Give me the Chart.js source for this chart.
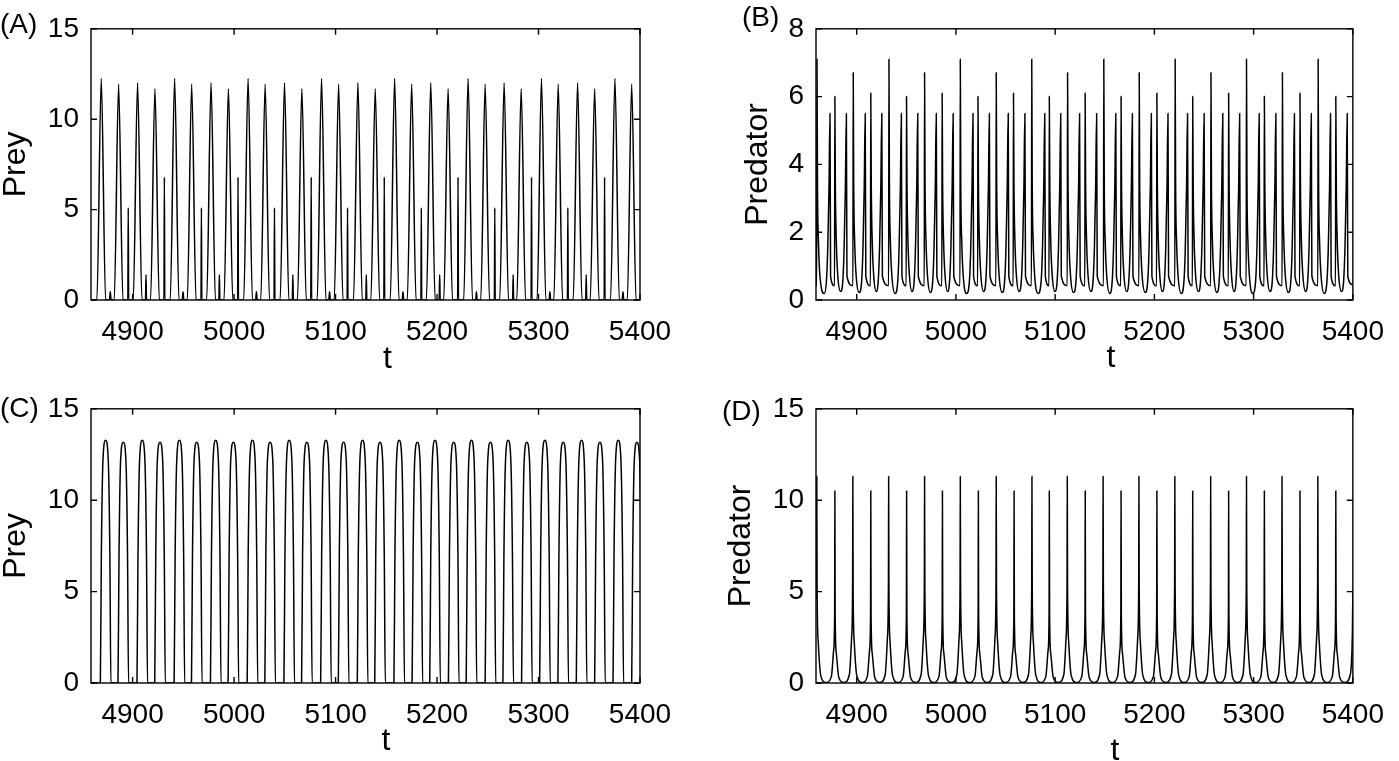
<!DOCTYPE html>
<html>
<head>
<meta charset="utf-8">
<script src="https://cdn.jsdelivr.net/npm/chart.js@4.4.1/dist/chart.umd.min.js"></script>
<style>
  body { margin: 0; background: #fff; width: 1399px; height: 761px; position: relative; overflow: hidden; }
  canvas { position: absolute; }
  #cA { left: 0; top: 0; }
  #cB { left: 700px; top: 0; }
  #cC { left: 0; top: 380px; }
  #cD { left: 700px; top: 380px; }
</style>
</head>
<body>
<canvas id="cA" width="700" height="380"></canvas>
<canvas id="cB" width="699" height="380"></canvas>
<canvas id="cC" width="700" height="381"></canvas>
<canvas id="cD" width="699" height="381"></canvas>
<script>
// tick labels
var tTicks = [4900, 5000, 5100, 5200, 5300, 5400];
var preyTicks = [0, 5, 10, 15];
var predTicksB = [0, 2, 4, 6, 8];
var predTicksD = [0, 5, 10, 15];

// (A) prey, [t, value]
var preyA = [
  [4859,0],
  [4864.8,0],[4869.1,12.25],[4873.4,0],[4877.2,0],[4878.0,0.45],[4878.8,0],
  [4881.9,0],[4886.2,11.93],[4890.5,0],[4895.3,0],[4895.7,5.1],[4896.1,0],
  [4900.6,0],[4904.9,12.02],[4909.2,0],[4912.7,0],[4913.2,1.4],[4913.7,0],
  [4917.7,0],[4922.0,11.69],[4926.3,0],[4930.9,0],[4931.3,6.8],[4931.7,0],
  [4937.1,0],[4941.4,12.25],[4945.7,0],[4948.9,0],[4949.7,0.45],[4950.5,0],
  [4953.9,0],[4958.2,11.93],[4962.5,0],[4967.4,0],[4967.8,5.1],[4968.2,0],
  [4973.0,0],[4977.3,12.02],[4981.6,0],[4985.0,0],[4985.5,1.4],[4986.0,0],
  [4990.1,0],[4994.4,11.69],[4998.7,0],[5003.5,0],[5003.9,6.8],[5004.3,0],
  [5009.5,0],[5013.8,12.25],[5018.1,0],[5021.2,0],[5022.0,0.45],[5022.8,0],
  [5026.3,0],[5030.6,11.93],[5034.9,0],[5039.4,0],[5039.8,5.1],[5040.2,0],
  [5045.4,0],[5049.7,12.02],[5054.0,0],[5057.4,0],[5057.9,1.4],[5058.4,0],
  [5062.5,0],[5066.8,11.69],[5071.1,0],[5075.6,0],[5076.0,6.8],[5076.4,0],
  [5081.9,0],[5086.2,12.25],[5090.5,0],[5093.3,0],[5094.1,0.45],[5094.9,0],
  [5098.7,0],[5103.0,11.93],[5107.3,0],[5111.4,0],[5111.8,5.1],[5112.2,0],
  [5117.7,0],[5122.0,12.02],[5126.3,0],[5129.8,0],[5130.3,1.4],[5130.8,0],
  [5134.8,0],[5139.1,11.69],[5143.4,0],[5147.6,0],[5148.0,6.8],[5148.4,0],
  [5153.9,0],[5158.2,12.25],[5162.5,0],[5165.6,0],[5166.4,0.45],[5167.2,0],
  [5170.7,0],[5175.0,11.93],[5179.3,0],[5184.1,0],[5184.5,5.1],[5184.9,0],
  [5189.5,0],[5193.8,12.02],[5198.1,0],[5202.1,0],[5202.6,1.4],[5203.1,0],
  [5206.6,0],[5210.9,11.69],[5215.2,0],[5220.3,0],[5220.7,6.8],[5221.1,0],
  [5226.3,0],[5230.6,12.25],[5234.9,0],[5238.0,0],[5238.8,0.45],[5239.6,0],
  [5243.1,0],[5247.4,11.93],[5251.7,0],[5256.5,0],[5256.9,5.1],[5257.3,0],
  [5261.8,0],[5266.1,12.02],[5270.4,0],[5274.5,0],[5275.0,1.4],[5275.5,0],
  [5278.6,0],[5282.9,11.69],[5287.2,0],[5292.7,0],[5293.1,6.8],[5293.5,0],
  [5298.6,0],[5302.9,12.25],[5307.2,0],[5310.4,0],[5311.2,0.45],[5312.0,0],
  [5315.1,0],[5319.4,11.93],[5323.7,0],[5328.5,0],[5328.9,5.1],[5329.3,0],
  [5334.2,0],[5338.5,12.02],[5342.8,0],[5346.5,0],[5347.0,1.4],[5347.5,0],
  [5351.0,0],[5355.3,11.69],[5359.6,0],[5364.7,0],[5365.1,6.8],[5365.5,0],
  [5371.0,0],[5375.3,12.25],[5379.6,0],[5382.4,0],[5383.2,0.45],[5384.0,0],
  [5387.5,0],[5391.8,11.93],[5396.1,0],
  [5400,0]
];

// (B) predator
var predB = [
  [4859.0,0.45],[4859.7,0.42],[4860.0,7.1],[4860.5,3.4],[4861.5,1.7],[4863.0,0.7],[4867.3,0.19],
  [4869.6,0.6],[4870.9,1.6],[4872.1,3.3],[4873.1,5.5],[4873.7,0.7],[4877.7,0.42],[4878.0,6.0],[4878.5,3.4],[4879.5,1.7],[4881.0,0.7],[4883.8,0.25],
  [4886.1,0.6],[4887.4,1.6],[4888.6,3.3],[4889.6,5.5],[4890.2,0.7],[4896.2,0.42],[4896.5,6.7],[4897.0,3.4],[4898.0,1.7],[4899.5,0.7],[4902.5,0.22],
  [4905.1,0.6],[4906.4,1.6],[4907.6,3.3],[4908.6,5.5],[4909.2,0.7],[4913.9,0.42],[4914.2,6.1],[4914.7,3.4],[4915.7,1.7],[4917.2,0.7],[4919.7,0.25],
  [4921.8,0.6],[4923.1,1.6],[4924.3,3.3],[4925.3,5.5],[4925.9,0.7],[4932.2,0.42],[4932.5,7.1],[4933.0,3.4],[4934.0,1.7],[4935.5,0.7],[4938.7,0.19],
  [4941.5,0.6],[4942.8,1.6],[4944.0,3.3],[4945.0,5.5],[4945.6,0.7],[4949.9,0.42],[4950.2,6.0],[4950.7,3.4],[4951.7,1.7],[4953.2,0.7],[4955.8,0.25],
  [4958.0,0.6],[4959.3,1.6],[4960.5,3.3],[4961.5,5.5],[4962.1,0.7],[4968.1,0.42],[4968.4,6.7],[4968.9,3.4],[4969.9,1.7],[4971.4,0.7],[4974.3,0.22],
  [4976.7,0.6],[4978.0,1.6],[4979.2,3.3],[4980.2,5.5],[4980.8,0.7],[4985.8,0.42],[4986.1,6.1],[4986.6,3.4],[4987.6,1.7],[4989.1,0.7],[4991.6,0.25],
  [4993.7,0.6],[4995.0,1.6],[4996.2,3.3],[4997.2,5.5],[4997.8,0.7],[5004.1,0.42],[5004.4,7.1],[5004.9,3.4],[5005.9,1.7],[5007.4,0.7],[5010.8,0.19],
  [5013.7,0.6],[5015.0,1.6],[5016.2,3.3],[5017.2,5.5],[5017.8,0.7],[5021.9,0.42],[5022.2,6.0],[5022.7,3.4],[5023.7,1.7],[5025.2,0.7],[5027.9,0.25],
  [5030.2,0.6],[5031.5,1.6],[5032.7,3.3],[5033.7,5.5],[5034.3,0.7],[5040.3,0.42],[5040.6,6.7],[5041.1,3.4],[5042.1,1.7],[5043.6,0.7],[5046.6,0.22],
  [5049.2,0.6],[5050.5,1.6],[5051.7,3.3],[5052.7,5.5],[5053.3,0.7],[5057.7,0.42],[5058.0,6.1],[5058.5,3.4],[5059.5,1.7],[5061.0,0.7],[5063.7,0.25],
  [5066.0,0.6],[5067.3,1.6],[5068.5,3.3],[5069.5,5.5],[5070.1,0.7],[5076.1,0.42],[5076.4,7.1],[5076.9,3.4],[5077.9,1.7],[5079.4,0.7],[5082.9,0.19],
  [5086.0,0.6],[5087.3,1.6],[5088.5,3.3],[5089.5,5.5],[5090.1,0.7],[5093.8,0.42],[5094.1,6.0],[5094.6,3.4],[5095.6,1.7],[5097.1,0.7],[5099.8,0.25],
  [5102.1,0.6],[5103.4,1.6],[5104.6,3.3],[5105.6,5.5],[5106.2,0.7],[5112.2,0.42],[5112.5,6.7],[5113.0,3.4],[5114.0,1.7],[5115.5,0.7],[5118.5,0.22],
  [5121.1,0.6],[5122.4,1.6],[5123.6,3.3],[5124.6,5.5],[5125.2,0.7],[5129.9,0.42],[5130.2,6.1],[5130.7,3.4],[5131.7,1.7],[5133.2,0.7],[5136.0,0.25],
  [5138.3,0.6],[5139.6,1.6],[5140.8,3.3],[5141.8,5.5],[5142.4,0.7],[5148.7,0.42],[5149.0,7.1],[5149.5,3.4],[5150.5,1.7],[5152.0,0.7],[5155.0,0.19],
  [5157.6,0.6],[5158.9,1.6],[5160.1,3.3],[5161.1,5.5],[5161.7,0.7],[5166.1,0.42],[5166.4,6.0],[5166.9,3.4],[5167.9,1.7],[5169.4,0.7],[5172.1,0.25],
  [5174.3,0.6],[5175.6,1.6],[5176.8,3.3],[5177.8,5.5],[5178.4,0.7],[5184.4,0.42],[5184.7,6.7],[5185.2,3.4],[5186.2,1.7],[5187.7,0.7],[5190.8,0.22],
  [5193.4,0.6],[5194.7,1.6],[5195.9,3.3],[5196.9,5.5],[5197.5,0.7],[5202.2,0.42],[5202.5,6.1],[5203.0,3.4],[5204.0,1.7],[5205.5,0.7],[5208.1,0.25],
  [5210.2,0.6],[5211.5,1.6],[5212.7,3.3],[5213.7,5.5],[5214.3,0.7],[5220.6,0.42],[5220.9,7.1],[5221.4,3.4],[5222.4,1.7],[5223.9,0.7],[5227.1,0.19],
  [5229.9,0.6],[5231.2,1.6],[5232.4,3.3],[5233.4,5.5],[5234.0,0.7],[5238.3,0.42],[5238.6,6.0],[5239.1,3.4],[5240.1,1.7],[5241.6,0.7],[5244.3,0.25],
  [5246.6,0.6],[5247.9,1.6],[5249.1,3.3],[5250.1,5.5],[5250.7,0.7],[5256.7,0.42],[5257.0,6.7],[5257.5,3.4],[5258.5,1.7],[5260.0,0.7],[5262.9,0.22],
  [5265.4,0.6],[5266.7,1.6],[5267.9,3.3],[5268.9,5.5],[5269.5,0.7],[5274.5,0.42],[5274.8,6.1],[5275.3,3.4],[5276.3,1.7],[5277.8,0.7],[5280.3,0.25],
  [5282.4,0.6],[5283.7,1.6],[5284.9,3.3],[5285.9,5.5],[5286.5,0.7],[5292.5,0.42],[5292.8,7.1],[5293.3,3.4],[5294.3,1.7],[5295.8,0.7],[5299.2,0.19],
  [5302.1,0.6],[5303.4,1.6],[5304.6,3.3],[5305.6,5.5],[5306.2,0.7],[5310.5,0.42],[5310.8,6.0],[5311.3,3.4],[5312.3,1.7],[5313.8,0.7],[5316.6,0.25],
  [5318.9,0.6],[5320.2,1.6],[5321.4,3.3],[5322.4,5.5],[5323.0,0.7],[5328.7,0.42],[5329.0,6.7],[5329.5,3.4],[5330.5,1.7],[5332.0,0.7],[5335.0,0.22],
  [5337.6,0.6],[5338.9,1.6],[5340.1,3.3],[5341.1,5.5],[5341.7,0.7],[5346.4,0.42],[5346.7,6.1],[5347.2,3.4],[5348.2,1.7],[5349.7,0.7],[5352.4,0.25],
  [5354.6,0.6],[5355.9,1.6],[5357.1,3.3],[5358.1,5.5],[5358.7,0.7],[5364.7,0.42],[5365.0,7.1],[5365.5,3.4],[5366.5,1.7],[5368.0,0.7],[5371.2,0.19],
  [5374.0,0.6],[5375.3,1.6],[5376.5,3.3],[5377.5,5.5],[5378.1,0.7],[5382.5,0.42],[5382.8,6.0],[5383.3,3.4],[5384.3,1.7],[5385.8,0.7],[5388.5,0.25],
  [5390.8,0.6],[5392.1,1.6],[5393.3,3.3],[5394.3,5.5],[5394.9,0.7],[5400,0.45]
];

// (C) prey
var preyC = [
  [4859,0],
  [4868.2,0],[4869.2,7],[4870.8,12.2],[4873.4,13.28],[4876.0,12.2],[4877.6,7],[4878.6,0],
  [4885.6,0],[4886.6,7],[4888.2,12.2],[4890.8,13.17],[4893.4,12.2],[4895.0,7],[4896.0,0],
  [4904.3,0],[4905.3,7],[4906.9,12.2],[4909.5,13.28],[4912.1,12.2],[4913.7,7],[4914.7,0],
  [4921.8,0],[4922.8,7],[4924.4,12.2],[4927.0,13.17],[4929.6,12.2],[4931.2,7],[4932.2,0],
  [4940.9,0],[4941.9,7],[4943.5,12.2],[4946.1,13.28],[4948.7,12.2],[4950.3,7],[4951.3,0],
  [4958.0,0],[4959.0,7],[4960.6,12.2],[4963.2,13.17],[4965.8,12.2],[4967.4,7],[4968.4,0],
  [4976.7,0],[4977.7,7],[4979.3,12.2],[4981.9,13.28],[4984.5,12.2],[4986.1,7],[4987.1,0],
  [4994.1,0],[4995.1,7],[4996.7,12.2],[4999.3,13.17],[5001.9,12.2],[5003.5,7],[5004.5,0],
  [5012.9,0],[5013.9,7],[5015.5,12.2],[5018.1,13.28],[5020.7,12.2],[5022.3,7],[5023.3,0],
  [5030.3,0],[5031.3,7],[5032.9,12.2],[5035.5,13.17],[5038.1,12.2],[5039.7,7],[5040.7,0],
  [5049.1,0],[5050.1,7],[5051.7,12.2],[5054.3,13.28],[5056.9,12.2],[5058.5,7],[5059.5,0],
  [5066.5,0],[5067.5,7],[5069.1,12.2],[5071.7,13.17],[5074.3,12.2],[5075.9,7],[5076.9,0],
  [5085.3,0],[5086.3,7],[5087.9,12.2],[5090.5,13.28],[5093.1,12.2],[5094.7,7],[5095.7,0],
  [5102.7,0],[5103.7,7],[5105.3,12.2],[5107.9,13.17],[5110.5,12.2],[5112.1,7],[5113.1,0],
  [5121.4,0],[5122.4,7],[5124.0,12.2],[5126.6,13.28],[5129.2,12.2],[5130.8,7],[5131.8,0],
  [5138.6,0],[5139.6,7],[5141.2,12.2],[5143.8,13.17],[5146.4,12.2],[5148.0,7],[5149.0,0],
  [5157.5,0],[5158.5,7],[5160.1,12.2],[5162.7,13.28],[5165.3,12.2],[5166.9,7],[5167.9,0],
  [5175.4,0],[5176.4,7],[5178.0,12.2],[5180.6,13.17],[5183.2,12.2],[5184.8,7],[5185.8,0],
  [5192.8,0],[5193.8,7],[5195.4,12.2],[5198.0,13.28],[5200.6,12.2],[5202.2,7],[5203.2,0],
  [5211.2,0],[5212.2,7],[5213.8,12.2],[5216.4,13.17],[5219.0,12.2],[5220.6,7],[5221.6,0],
  [5228.7,0],[5229.7,7],[5231.3,12.2],[5233.9,13.28],[5236.5,12.2],[5238.1,7],[5239.1,0],
  [5247.4,0],[5248.4,7],[5250.0,12.2],[5252.6,13.17],[5255.2,12.2],[5256.8,7],[5257.8,0],
  [5264.9,0],[5265.9,7],[5267.5,12.2],[5270.1,13.28],[5272.7,12.2],[5274.3,7],[5275.3,0],
  [5283.3,0],[5284.3,7],[5285.9,12.2],[5288.5,13.17],[5291.1,12.2],[5292.7,7],[5293.7,0],
  [5301.1,0],[5302.1,7],[5303.7,12.2],[5306.3,13.28],[5308.9,12.2],[5310.5,7],[5311.5,0],
  [5319.1,0],[5320.1,7],[5321.7,12.2],[5324.3,13.17],[5326.9,12.2],[5328.5,7],[5329.5,0],
  [5337.2,0],[5338.2,7],[5339.8,12.2],[5342.4,13.28],[5345.0,12.2],[5346.6,7],[5347.6,0],
  [5355.3,0],[5356.3,7],[5357.9,12.2],[5360.5,13.17],[5363.1,12.2],[5364.7,7],[5365.7,0],
  [5373.4,0],[5374.4,7],[5376.0,12.2],[5378.6,13.28],[5381.2,12.2],[5382.8,7],[5383.8,0],
  [5391.8,0],[5392.8,7],[5394.4,12.2],[5397.0,13.17],[5399.6,12.2],[5401.2,7],[5402.2,0]
];

// (D) predator
var predD = [
  [4859.0,4.6],[4859.6,5.5],[4859.8,11.3],[4860.1,5.2],[4861.3,2.2],[4863.8,0.4],[4868.9,0.03],
  [4874.5,0.35],[4876.8,1.8],[4877.8,3.9],[4878.0,10.5],[4878.3,3.7],[4879.5,1.6],[4882.0,0.3],[4887.0,0.03],
  [4892.6,0.45],[4894.9,2.5],[4895.9,5.5],[4896.1,11.3],[4896.4,5.2],[4897.6,2.2],[4900.1,0.4],[4905.2,0.03],
  [4910.7,0.35],[4913.0,1.8],[4914.0,3.9],[4914.2,10.5],[4914.5,3.7],[4915.7,1.6],[4918.2,0.3],[4923.2,0.03],
  [4928.7,0.45],[4931.0,2.5],[4932.0,5.5],[4932.2,11.3],[4932.5,5.2],[4933.7,2.2],[4936.2,0.4],[4941.3,0.03],
  [4946.8,0.35],[4949.1,1.8],[4950.1,3.9],[4950.3,10.5],[4950.6,3.7],[4951.8,1.6],[4954.3,0.3],[4959.4,0.03],
  [4964.9,0.45],[4967.2,2.5],[4968.2,5.5],[4968.4,11.3],[4968.7,5.2],[4969.9,2.2],[4972.4,0.4],[4977.4,0.03],
  [4982.9,0.35],[4985.2,1.8],[4986.2,3.9],[4986.4,10.5],[4986.7,3.7],[4987.9,1.6],[4990.4,0.3],[4995.4,0.03],
  [5000.9,0.45],[5003.2,2.5],[5004.2,5.5],[5004.4,11.3],[5004.7,5.2],[5005.9,2.2],[5008.4,0.4],[5013.5,0.03],
  [5019.1,0.35],[5021.4,1.8],[5022.4,3.9],[5022.6,10.5],[5022.9,3.7],[5024.1,1.6],[5026.6,0.3],[5031.6,0.03],
  [5037.1,0.45],[5039.4,2.5],[5040.4,5.5],[5040.6,11.3],[5040.9,5.2],[5042.1,2.2],[5044.6,0.4],[5049.6,0.03],
  [5055.1,0.35],[5057.4,1.8],[5058.4,3.9],[5058.6,10.5],[5058.9,3.7],[5060.1,1.6],[5062.6,0.3],[5067.6,0.03],
  [5073.1,0.45],[5075.4,2.5],[5076.4,5.5],[5076.6,11.3],[5076.9,5.2],[5078.1,2.2],[5080.6,0.4],[5085.4,0.03],
  [5090.6,0.35],[5092.9,1.8],[5093.9,3.9],[5094.1,10.5],[5094.4,3.7],[5095.6,1.6],[5098.1,0.3],[5103.2,0.03],
  [5108.7,0.45],[5111.0,2.5],[5112.0,5.5],[5112.2,11.3],[5112.5,5.2],[5113.7,2.2],[5116.2,0.4],[5121.3,0.03],
  [5126.8,0.35],[5129.1,1.8],[5130.1,3.9],[5130.3,10.5],[5130.6,3.7],[5131.8,1.6],[5134.3,0.3],[5139.3,0.03],
  [5144.8,0.45],[5147.1,2.5],[5148.1,5.5],[5148.3,11.3],[5148.6,5.2],[5149.8,2.2],[5152.3,0.4],[5157.4,0.03],
  [5162.9,0.35],[5165.2,1.8],[5166.2,3.9],[5166.4,10.5],[5166.7,3.7],[5167.9,1.6],[5170.4,0.3],[5175.4,0.03],
  [5180.9,0.45],[5183.2,2.5],[5184.2,5.5],[5184.4,11.3],[5184.7,5.2],[5185.9,2.2],[5188.4,0.4],[5193.5,0.03],
  [5199.0,0.35],[5201.3,1.8],[5202.3,3.9],[5202.5,10.5],[5202.8,3.7],[5204.0,1.6],[5206.5,0.3],[5211.6,0.03],
  [5217.1,0.45],[5219.4,2.5],[5220.4,5.5],[5220.6,11.3],[5220.9,5.2],[5222.1,2.2],[5224.6,0.4],[5229.6,0.03],
  [5235.1,0.35],[5237.4,1.8],[5238.4,3.9],[5238.6,10.5],[5238.9,3.7],[5240.1,1.6],[5242.6,0.3],[5247.7,0.03],
  [5253.2,0.45],[5255.5,2.5],[5256.5,5.5],[5256.7,11.3],[5257.0,5.2],[5258.2,2.2],[5260.7,0.4],[5265.8,0.03],
  [5271.3,0.35],[5273.6,1.8],[5274.6,3.9],[5274.8,10.5],[5275.1,3.7],[5276.3,1.6],[5278.8,0.3],[5283.8,0.03],
  [5289.3,0.45],[5291.6,2.5],[5292.6,5.5],[5292.8,11.3],[5293.1,5.2],[5294.3,2.2],[5296.8,0.4],[5301.8,0.03],
  [5307.3,0.35],[5309.6,1.8],[5310.6,3.9],[5310.8,10.5],[5311.1,3.7],[5312.3,1.6],[5314.8,0.3],[5319.7,0.03],
  [5325.1,0.45],[5327.4,2.5],[5328.4,5.5],[5328.6,11.3],[5328.9,5.2],[5330.1,2.2],[5332.6,0.4],[5337.7,0.03],
  [5343.2,0.35],[5345.5,1.8],[5346.5,3.9],[5346.7,10.5],[5347.0,3.7],[5348.2,1.6],[5350.7,0.3],[5355.7,0.03],
  [5361.2,0.45],[5363.5,2.5],[5364.5,5.5],[5364.7,11.3],[5365.0,5.2],[5366.2,2.2],[5368.7,0.4],[5373.8,0.03],
  [5379.3,0.35],[5381.6,1.8],[5382.6,3.9],[5382.8,10.5],[5383.1,3.7],[5384.3,1.6],[5386.8,0.3],[5391.8,0.03],
  [5397.4,0.45],[5399.5,2.7],[5400,5.0]
];

Chart.defaults.font.family = '"Liberation Sans", Arial, Helvetica, sans-serif';
Chart.defaults.color = '#000';

// box round the plot, inward ticks, panel letter and the "t" label
var frame = {
  id: 'frame',
  afterDraw: function(chart, args, o) {
    var ctx = chart.ctx, a = chart.chartArea;
    var xs = chart.scales.x, ys = chart.scales.y;
    ctx.save();
    ctx.strokeStyle = '#000';
    ctx.lineWidth = 1.4;
    ctx.strokeRect(a.left, a.top, a.right - a.left, a.bottom - a.top);
    ctx.beginPath();
    tTicks.forEach(function(v) {
      var px = xs.getPixelForValue(v);
      ctx.moveTo(px, a.bottom); ctx.lineTo(px, a.bottom - 6);
      ctx.moveTo(px, a.top); ctx.lineTo(px, a.top + 6);
    });
    ys.ticks.forEach(function(t) {
      var py = ys.getPixelForValue(t.value);
      ctx.moveTo(a.left, py); ctx.lineTo(a.left + 6, py);
      ctx.moveTo(a.right, py); ctx.lineTo(a.right - 6, py);
    });
    ctx.stroke();
    ctx.fillStyle = '#000';
    ctx.textBaseline = 'alphabetic';
    ctx.textAlign = 'left';
    ctx.font = '28px "Liberation Sans", Arial, sans-serif';
    ctx.fillText(o.letter, o.lx, o.ly);
    ctx.textAlign = 'center';
    ctx.font = '32px "Liberation Sans", Arial, sans-serif';
    ctx.fillText('t', o.tx, o.ty);
    ctx.restore();
  }
};

function drawPanel(id, series, yTicks, yTitle, lay) {
  new Chart(document.getElementById(id), {
    type: 'line',
    data: {
      datasets: [{
        data: series.map(function(p) { return {x: p[0], y: p[1]}; }),
        borderColor: '#000',
        borderWidth: 1.5,
        pointRadius: 0,
        fill: false,
        cubicInterpolationMode: 'monotone'
      }]
    },
    options: {
      responsive: false,
      animation: false,
      devicePixelRatio: 1,
      events: [],
      layout: {padding: {top: lay.top, right: lay.right, left: 0, bottom: 0}},
      plugins: {legend: {display: false}, tooltip: {enabled: false}, frame: lay},
      scales: {
        x: {
          type: 'linear', min: 4859, max: 5400,
          grid: {display: false, drawTicks: false},
          border: {display: false},
          afterBuildTicks: function(s) { s.ticks = tTicks.map(function(v) { return {value: v}; }); },
          afterFit: function(s) { s.height = lay.xh; },
          ticks: {padding: 15, maxRotation: 0, autoSkip: false, font: {size: 28},
                  callback: function(v) { return String(v); }}
        },
        y: {
          type: 'linear', min: 0, max: yTicks[yTicks.length - 1],
          grid: {display: false, drawTicks: false},
          border: {display: false},
          afterBuildTicks: function(s) { s.ticks = yTicks.map(function(v) { return {value: v}; }); },
          afterFit: function(s) { s.width = lay.yw; },
          ticks: {padding: 12, autoSkip: false, font: {size: 28},
                  callback: function(v) { return String(v); }},
          title: {display: true, text: yTitle, font: {size: 32, lineHeight: 1},
                  padding: {top: lay.titlePad, bottom: 0}}
        }
      }
    },
    plugins: [frame]
  });
}

drawPanel('cA', preyA, preyTicks, 'Prey',
  {top: 23, right: 60, xh: 80, yw: 91, titlePad: 0, letter: '(A)', lx: 0, ly: 33, tx: 387.5, ty: 368});
drawPanel('cB', predB, predTicksB, 'Predator',
  {top: 23, right: 33, xh: 80, yw: 116, titlePad: 42, letter: '(B)', lx: 42, ly: 26, tx: 411, ty: 367});
drawPanel('cC', preyC, preyTicks, 'Prey',
  {top: 27, right: 60, xh: 78, yw: 91, titlePad: 0, letter: '(C)', lx: 0, ly: 37, tx: 386, ty: 370});
drawPanel('cD', predD, predTicksD, 'Predator',
  {top: 27, right: 33, xh: 78, yw: 116, titlePad: 25, letter: '(D)', lx: 22, ly: 40, tx: 415, ty: 380});
</script>
</body>
</html>
